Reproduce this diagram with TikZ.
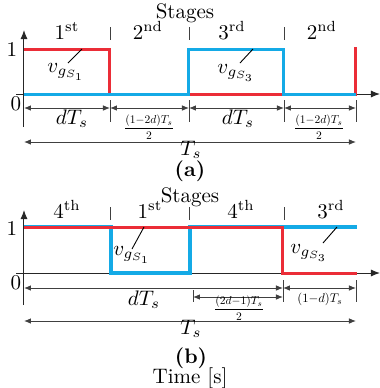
\RequirePackage{fix-cm}
\documentclass[tikz,border=0pt]{standalone}
\usepackage{amsmath}
\usepackage{graphicx}
\usetikzlibrary{arrows.meta}
\definecolor{sigred}{RGB}{235,45,55}
\definecolor{sigblue}{RGB}{20,170,230}
\begin{document}
\begin{tikzpicture}[x=0.5pt,y=-0.5pt,
  font=\fontsize{10.5}{12.5}\selectfont,
  axis/.style={draw=black!85, line width=0.5pt, -{Latex[length=4.5pt,width=3.5pt]}},
  dim/.style={draw=black!75, line width=0.45pt, {Latex[length=3.5pt,width=2.8pt]}-{Latex[length=3.5pt,width=2.8pt]}},
  tickline/.style={draw=black!75, line width=0.45pt},
  sigr/.style={draw=sigred, line width=1.5pt},
  sigb/.style={draw=sigblue, line width=1.5pt},
  sigbthick/.style={draw=sigblue, line width=2.2pt},
  leader/.style={draw=black, line width=0.45pt},
  txt/.style={inner sep=0pt, anchor=base},
  lbl/.style={inner sep=0pt, anchor=base west},
  fracstyle/.style={inner sep=0pt},
  small/.style={inner sep=0pt},
]
\useasboundingbox (0,0) rectangle (380,388);

% ================= panel (a) =================
\coordinate (aYbot) at (24,127);
\coordinate (aYtop) at (24,30);
\coordinate (aXl) at (16,94);
\coordinate (aXr) at (380,94);
\draw[axis] (aYbot) -- (aYtop);
\draw[axis] (aXl) -- (aXr);

\node[txt] (aStages) at (185,18) {Stages};
\node[txt] (aS1) at (67,39) {$1^{\mathrm{st}}$};
\node[txt] (aS2) at (148,39) {$2^{\mathrm{nd}}$};
\node[txt] (aS3) at (232,39) {$3^{\mathrm{rd}}$};
\node[txt] (aS4) at (322,39) {$2^{\mathrm{nd}}$};
\foreach \x in {110,189,284} \draw[tickline] (\x,27) -- (\x,40);

\node[inner sep=0pt] (aOne) at (12,49) {1};
\node[inner sep=0pt] (aZero) at (16,104) {0};

\draw[sigr] (24,49) -- (110,49) -- (110,94) -- (356,94) -- (356,47);
\draw[sigb] (24,94) -- (189,94) -- (189,49) -- (284,49) -- (284,94) -- (356,94);

\node[lbl] (avg1) at (47,72) {$v_{g_{S_1}}$};
\coordinate (avg1a) at (68,63);
\coordinate (avg1b) at (82,49);
\draw[leader] (avg1a) -- (avg1b);
\node[lbl] (avg3) at (217,73) {$v_{g_{S_3}}$};
\coordinate (avg3a) at (240,63);
\coordinate (avg3b) at (253,49);
\draw[leader] (avg3a) -- (avg3b);

\foreach \x in {110,189,284,356} \draw[tickline] (\x,100) -- (\x,122);
\coordinate (ad0) at (24,108);
\coordinate (ad1) at (110,108);
\coordinate (ad2) at (189,108);
\coordinate (ad3) at (284,108);
\coordinate (ad4) at (356,108);
\draw[dim] (ad0) -- (ad1);
\draw[dim] (ad1) -- (ad2);
\draw[dim] (ad2) -- (ad3);
\draw[dim] (ad3) -- (ad4);
\node[txt] (adT1) at (72,124) {$dT_s$};
\node[fracstyle] (afr1) at (149,127) {\scalebox{0.55}{$\dfrac{(1{-}2d)T_s}{2}$}};
\node[txt] (adT2) at (238,124) {$dT_s$};
\node[fracstyle] (afr2) at (319,127) {\scalebox{0.55}{$\dfrac{(1{-}2d)T_s}{2}$}};

\coordinate (aT0) at (24,142);
\coordinate (aT1) at (356,142);
\draw[dim] (aT0) -- (aT1);
\node[txt] (aTs) at (191,155) {$T_s$};
\node[txt] (acap) at (190,176) {\textbf{(a)}};

% ================= panel (b) =================
\coordinate (bYbot) at (24,305);
\coordinate (bYtop) at (24,210);
\coordinate (bXl) at (16,273);
\coordinate (bXr) at (380,273);
\draw[axis] (bYbot) -- (bYtop);
\draw[axis] (bXl) -- (bXr);

\node[txt] (bStages) at (190,202) {Stages};
\node[txt] (bS1) at (67,218) {$4^{\mathrm{th}}$};
\node[txt] (bS2) at (150,218) {$1^{\mathrm{st}}$};
\node[txt] (bS3) at (241,218) {$4^{\mathrm{th}}$};
\node[txt] (bS4) at (331,218) {$3^{\mathrm{rd}}$};
\foreach \x in {110,189,284} \draw[tickline] (\x,207) -- (\x,220);

\node[inner sep=0pt] (bOne) at (12,229) {1};
\node[inner sep=0pt] (bZero) at (16,283) {0};

\draw[sigbthick] (24,227) -- (111,227) -- (111,273) -- (190,273) -- (190,227) -- (357,227);
\draw[sigr] (24,227) -- (283,227) -- (283,273) -- (357,273);

\node[lbl] (bvg1) at (113,255) {$v_{g_{S_1}}$};
\coordinate (bvg1a) at (132,249);
\coordinate (bvg1b) at (144,227);
\draw[leader] (bvg1a) -- (bvg1b);
\node[lbl] (bvg3) at (290,253) {$v_{g_{S_3}}$};
\coordinate (bvg3a) at (323,243);
\coordinate (bvg3b) at (337,227);
\draw[leader] (bvg3a) -- (bvg3b);

\draw[tickline] (283,280) -- (283,302);
\draw[tickline] (356,280) -- (356,302);
\draw[tickline] (193,290) -- (193,302);
\coordinate (bd0) at (24,288);
\coordinate (bd1) at (283,288);
\coordinate (bd2) at (356,288);
\coordinate (be0) at (193,297);
\coordinate (be1) at (283,297);
\draw[dim] (bd0) -- (bd1);
\draw[dim] (bd1) -- (bd2);
\draw[dim] (be0) -- (be1);
\node[txt] (bdT) at (144,305) {$dT_s$};
\node[fracstyle] (bfr) at (239,308) {\scalebox{0.55}{$\dfrac{(2d{-}1)T_s}{2}$}};
\node[small] (bfd) at (320,299) {\scalebox{0.6}{$(1{-}d)T_s$}};

\coordinate (bT0) at (24,321);
\coordinate (bT1) at (356,321);
\draw[dim] (bT0) -- (bT1);
\node[txt] (bTs) at (191,334) {$T_s$};
\node[txt] (bcap) at (191,363) {\textbf{(b)}};
\node[txt] (btime) at (190,383) {Time [s]};
\end{tikzpicture}
\end{document}
